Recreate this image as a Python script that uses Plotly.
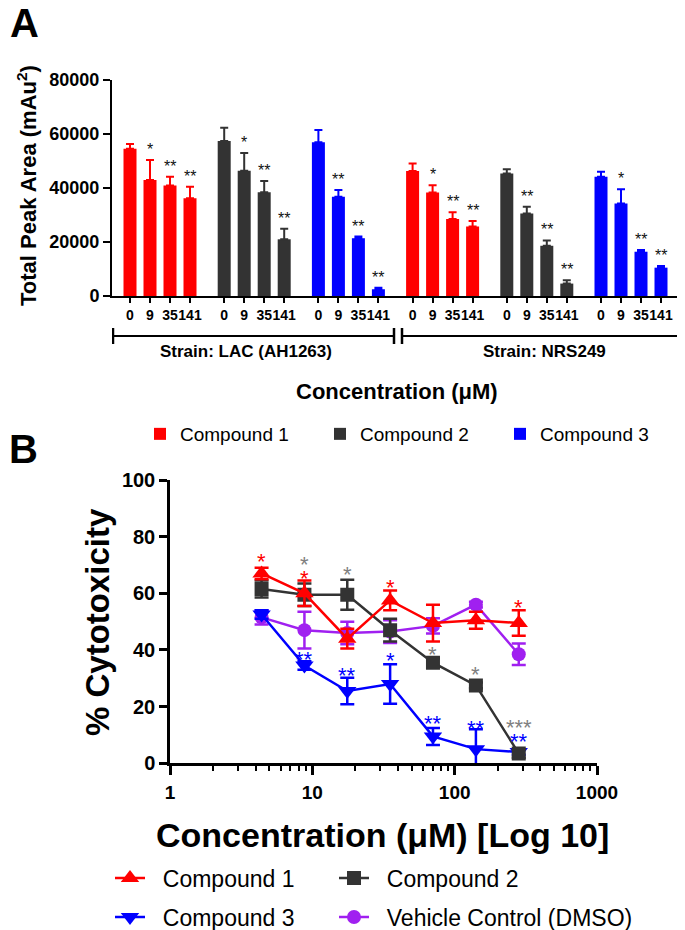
import math
import plotly.graph_objects as go

FONT = "Liberation Sans"

# ---------------- Panel A data ----------------
conc_labels = ["0", "9", "35", "141"]
strain_labels = ["Strain: LAC (AH1263)", "Strain: NRS249"]
compound_names = ["Compound 1", "Compound 2", "Compound 3"]
bar_colors = ["#FF0000", "#333333", "#0000FF"]
area_ticks = [0, 20000, 40000, 60000, 80000]
area_ticktext = ["0", "20000", "40000", "60000", "80000"]

# order: LAC 0, 9, 35, 141, NRS249 0, 9, 35, 141
c1_area = [54500, 43000, 40900, 36200, 46300, 38300, 28500, 25700]
c1_err = [1800, 7400, 3300, 4300, 2800, 2700, 2500, 2100]
c2_area = [57400, 46400, 38400, 21000, 45400, 30600, 18600, 4600]
c2_err = [4900, 6600, 4200, 3900, 1500, 2500, 2000, 1200]
c3_area = [56900, 36800, 21400, 2500, 44200, 34300, 16400, 10500]
c3_err = [4600, 2500, 600, 600, 1800, 5200, 600, 600]
c1_sig = ["", "*", "**", "**", "", "*", "**", "**"]
c2_sig = ["", "*", "**", "**", "", "**", "**", "**"]
c3_sig = ["", "**", "**", "**", "", "*", "**", "**"]

# ---------------- Panel B data ----------------
conc_b = [4.4, 8.8, 17.6, 35.2, 70.4, 141, 282]
cyto_c1 = [67, 60, 44, 57.5, 49.5, 50.5, 49.5]
cyto_c1_err = [2, 4.5, 3.5, 3.5, 6.5, 3, 4.5]
cyto_c2 = [61.5, 59.5, 59.5, 47, 35.5, 27.5, 3.5]
cyto_c2_err = [3, 4, 5.3, 4, 1.5, 1, 1.5]
cyto_c3 = [52.5, 34.5, 25.5, 28, 9.5, 5, 4]
cyto_c3_err = [1.5, 1.5, 4.7, 7, 3, 7, 1]
cyto_dmso = [51.5, 47, 46, 46.5, 48.5, 56, 38.5]
cyto_dmso_err = [2.5, 6.5, 4, 4, 2.7, 1, 3.8]
log_ticks = [1, 10, 100, 1000]
log_ticktext = ["1", "10", "100", "1000"]
cyto_ticks = [0, 20, 40, 60, 80, 100]

# significance marks in panel B
sig_b_x = [4.4, 8.8, 8.8, 17.6, 35.2, 282, 70.4, 141, 282, 8.8, 17.6, 35.2, 70.4, 141, 282]
sig_b_y = [72.5, 66.8, 71.5, 68, 63.6, 56.4, 39.8, 32.7, 14.2, 38.2, 32.3, 37.6, 15.4, 13.7, 9.2]
sig_b_text = ["*", "*", "*", "*", "*", "*", "*", "*", "***", "**", "**", "*", "**", "**", "**"]
sig_b_color = ["#FF0000", "#FF0000", "#808080", "#808080", "#FF0000", "#FF0000", "#808080",
               "#808080", "#808080", "#0000FF", "#0000FF", "#0000FF", "#0000FF", "#0000FF", "#0000FF"]

GROUP_STEP = 4.71
BAR_W = 0.65

# page body has an 8px margin: figure is drawn 8px in from the window edge
W, H, OFF = 677, 922, 8


def py(p):
    return 1 - (p - OFF) / H


def px(p):
    return (p - OFF) / W


fig = go.Figure()

areas = [c1_area, c2_area, c3_area]
errs = [c1_err, c2_err, c3_err]
sigs = [c1_sig, c2_sig, c3_sig]

annotations = []
tickvals_a, ticktext_a = [], []
for k in range(3):
    xs = []
    for s in range(2):
        g = s * 3 + k
        for j in range(4):
            xs.append(g * GROUP_STEP + j)
    tickvals_a += xs
    ticktext_a += conc_labels * 2
    fig.add_trace(go.Bar(
        x=xs, y=areas[k], width=BAR_W, name=compound_names[k],
        marker=dict(color=bar_colors[k], line=dict(width=0)),
        error_y=dict(type="data", array=errs[k], arrayminus=[0] * len(xs), symmetric=False,
                     color=bar_colors[k], thickness=2, width=4),
        xaxis="x", yaxis="y", legend="legend", legendwidth=135,
    ))
    for xv, yv, ev, sv in zip(xs, areas[k], errs[k], sigs[k]):
        if sv:
            annotations.append(dict(x=xv, y=yv + ev, xref="x", yref="y", text=sv, showarrow=False,
                                    xanchor="center", yanchor="bottom", yshift=0,
                                    font=dict(family=FONT, size=16, color="#111111")))

PAD = "\u00a0\u00a0"
b_series = [
    ("Vehicle Control (DMSO)", cyto_dmso, cyto_dmso_err, "#A020F0", "circle", 14, "legend3", 4, 300),
    ("Compound 3", cyto_c3, cyto_c3_err, "#0000FF", "triangle-down", 16, "legend3", 3, 179),
    ("Compound 2", cyto_c2, cyto_c2_err, "#333333", "square", 14, "legend2", 2, 179),
    ("Compound 1", cyto_c1, cyto_c1_err, "#FF0000", "triangle-up", 16, "legend2", 1, 179),
]
for name, ys, es, col, sym, size, leg, rank, lw in b_series:
    fig.add_trace(go.Scatter(
        x=conc_b, y=ys, name=PAD + name, mode="lines+markers",
        line=dict(color=col, width=2.5),
        marker=dict(color=col, symbol=sym, size=size),
        error_y=dict(type="data", array=es, color=col, thickness=2.5, width=7),
        xaxis="x2", yaxis="y2", legend=leg, legendrank=rank, legendwidth=lw,
    ))

for xv, yv, tv, cv in zip(sig_b_x, sig_b_y, sig_b_text, sig_b_color):
    annotations.append(dict(x=math.log10(xv), y=yv, xref="x2", yref="y2", text=tv, showarrow=False,
                            xanchor="center", yanchor="middle", yshift=-4,
                            font=dict(family=FONT, size=22, color=cv)))


def label(x, y, text, size, angle=0):
    return dict(x=px(x), y=py(y), xref="paper", yref="paper", text=text, showarrow=False,
                xanchor="center", yanchor="middle", textangle=angle,
                font=dict(family=FONT, size=size, color="black"))


annotations += [
    label(24, 23, "<b>A</b>", 40),
    label(23, 449, "<b>B</b>", 40),
    label(27, 186, "<b>Total Peak Area (mAu<sup>2</sup>)</b>", 22, -90),
    label(246, 351, "<b>" + strain_labels[0] + "</b>", 17),
    label(544, 351, "<b>" + strain_labels[1] + "</b>", 17),
    label(397, 392, "<b>Concentration (μM)</b>", 22),
    label(97, 622, "<b>% Cytotoxicity</b>", 33, -90),
    label(382, 835, "<b>Concentration (μM) [Log 10]</b>", 34),
]

shapes = []
bracket_y = py(336)
for x0, x1 in [(-0.85, 13.2), (13.6, 27.55)]:
    shapes.append(dict(type="line", xref="x", yref="paper", x0=x0, x1=x1, y0=bracket_y, y1=bracket_y,
                       line=dict(color="black", width=2)))
    for xe in (x0, x1):
        shapes.append(dict(type="line", xref="x", yref="paper", x0=xe, x1=xe, y0=py(328), y1=py(344),
                           line=dict(color="black", width=2.5)))

fig.update_layout(
    template="none",
    width=W, height=H,
    margin=dict(l=0, r=0, t=0, b=0, autoexpand=False),
    paper_bgcolor="white", plot_bgcolor="white",
    font=dict(family=FONT, color="black"),
    barmode="overlay",
    annotations=annotations,
    shapes=shapes,
    xaxis=dict(domain=[px(112), px(682)], range=[-0.9, 27.6], anchor="y", automargin=False,
               tickmode="array", tickvals=tickvals_a, ticktext=ticktext_a, tickangle=0,
               ticks="outside", ticklen=5, tickwidth=1.5, tickcolor="black",
               showline=True, linecolor="black", linewidth=2, showgrid=False, zeroline=False,
               tickfont=dict(family=FONT, size=14, color="black", weight="bold")),
    yaxis=dict(domain=[py(296), py(80)], range=[0, 80000], anchor="x", automargin=False,
               tickmode="array", tickvals=area_ticks, ticktext=area_ticktext,
               ticks="outside", ticklen=7, tickwidth=2, tickcolor="black",
               showline=True, linecolor="black", linewidth=2, showgrid=False, zeroline=False,
               tickfont=dict(family=FONT, size=18, color="black", weight="bold")),
    xaxis2=dict(domain=[px(170), px(597)], type="log", range=[0, 3], anchor="y2", automargin=False,
                tickmode="array", tickvals=log_ticks, ticktext=log_ticktext, tickangle=0,
                ticks="outside", ticklen=9, tickwidth=2.5, tickcolor="black",
                minor=dict(tickmode="array",
                           tickvals=[2, 3, 4, 5, 6, 7, 8, 9, 20, 30, 40, 50, 60, 70, 80, 90,
                                     200, 300, 400, 500, 600, 700, 800, 900],
                           ticks="outside", ticklen=5, tickwidth=2, tickcolor="black", showgrid=False),
                ticklabelstandoff=1,
                showline=True, linecolor="black", linewidth=2.5, showgrid=False, zeroline=False,
                tickfont=dict(family=FONT, size=19, color="black", weight="bold")),
    yaxis2=dict(domain=[py(763.3), py(480)], range=[0, 100], anchor="x2", automargin=False,
                tickmode="array", tickvals=cyto_ticks,
                ticks="outside", ticklen=8, tickwidth=2.5, tickcolor="black",
                showline=True, linecolor="black", linewidth=2.5, showgrid=False, zeroline=False,
                tickfont=dict(family=FONT, size=20, color="black", weight="bold")),
    legend=dict(orientation="h", x=px(140), y=py(434), xanchor="left", yanchor="middle",
                font=dict(family=FONT, size=19, color="black"),
                bgcolor="rgba(0,0,0,0)", borderwidth=0),
    legend2=dict(orientation="h", x=px(110), y=py(878), xanchor="left", yanchor="middle",
                 traceorder="normal",
                 font=dict(family=FONT, size=23, color="black"),
                 bgcolor="rgba(0,0,0,0)", borderwidth=0),
    legend3=dict(orientation="h", x=px(110), y=py(917), xanchor="left", yanchor="middle",
                 traceorder="normal",
                 font=dict(family=FONT, size=23, color="black"),
                 bgcolor="rgba(0,0,0,0)", borderwidth=0),
    showlegend=True,
)

fig.write_html("out.html")
